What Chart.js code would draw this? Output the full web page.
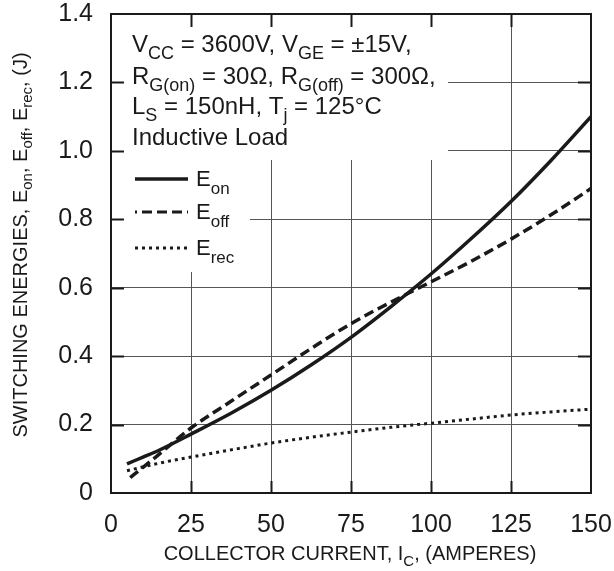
<!DOCTYPE html>
<html>
<head>
<meta charset="utf-8">
<script src="https://cdn.jsdelivr.net/npm/chart.js@4"></script>
<style>
html,body{margin:0;padding:0;background:#fff;}
#c{display:block;}
</style>
</head>
<body>
<canvas id="c" width="614" height="571"></canvas>
<script>
// ---- data ----
const xTicks = [0, 25, 50, 75, 100, 125, 150];
const yTicks = [0, 0.2, 0.4, 0.6, 0.8, 1.0, 1.2, 1.4];

const eonCurrent = [5, 10, 15, 25, 37.5, 50, 62.5, 75, 87.5, 100, 112.5, 125, 137.5, 150];
const eonEnergy  = [0.085, 0.105, 0.125, 0.172, 0.233, 0.300, 0.374, 0.455, 0.545, 0.640, 0.743, 0.852, 0.972, 1.10];

const eoffCurrent = [6, 10, 15, 25, 37.5, 50, 62.5, 75, 87.5, 100, 112.5, 125, 137.5, 150];
const eoffEnergy  = [0.045, 0.075, 0.113, 0.19, 0.268, 0.345, 0.422, 0.495, 0.558, 0.617, 0.677, 0.742, 0.813, 0.89];

const erecCurrent = [5, 15, 25, 37.5, 50, 62.5, 75, 87.5, 100, 112.5, 125, 137.5, 150];
const erecEnergy  = [0.065, 0.087, 0.105, 0.126, 0.146, 0.163, 0.178, 0.192, 0.204, 0.216, 0.228, 0.237, 0.245];

const seriesNames = ['on', 'off', 'rec'];

function pts(xs, ys){ return xs.map((x,i)=>({x:x, y:ys[i]})); }

const FONT = '"Liberation Sans", Arial, Helvetica, sans-serif';
const INK = '#1a1a1a';

function richWidth(ctx, parts, main, sub){
  let w = 0;
  for (const p of parts){
    ctx.font = (p[1] ? sub : main) + 'px ' + FONT;
    w += ctx.measureText(p[0]).width;
  }
  return w;
}
function drawRich(ctx, parts, x, y, main, sub, subDrop, align){
  let w = richWidth(ctx, parts, main, sub);
  let cx = align === 'center' ? x - w/2 : x;
  ctx.textBaseline = 'alphabetic';
  ctx.textAlign = 'left';
  for (const p of parts){
    ctx.font = (p[1] ? sub : main) + 'px ' + FONT;
    ctx.fillText(p[0], cx, y + (p[1] ? subDrop : 0));
    cx += ctx.measureText(p[0]).width;
  }
}

const decor = {
  id: 'decor',
  beforeDatasetsDraw(chart){
    const ctx = chart.ctx, a = chart.chartArea;
    const xs = chart.scales.x, ys = chart.scales.y;
    ctx.save();
    // white areas behind the annotation and legend
    ctx.fillStyle = '#fff';
    ctx.fillRect(a.left, a.top, 448 - a.left, 160 - a.top);
    ctx.fillRect(a.left, a.top, 250 - a.left, 272 - a.top);
    // inward ticks
    ctx.strokeStyle = INK;
    ctx.lineWidth = 2;
    ctx.beginPath();
    for (const v of yTicks){
      if (v <= 0 || v >= 1.4) continue;
      const py = Math.round(ys.getPixelForValue(v)) + 0.5;
      ctx.moveTo(a.left, py); ctx.lineTo(a.left + 13, py);
      ctx.moveTo(a.right, py); ctx.lineTo(a.right - 13, py);
    }
    for (const v of xTicks){
      if (v <= 0 || v >= 150) continue;
      const px = Math.round(xs.getPixelForValue(v)) + 0.5;
      ctx.moveTo(px, a.bottom); ctx.lineTo(px, a.bottom - 12);
      ctx.moveTo(px, a.top); ctx.lineTo(px, a.top + 13);
    }
    ctx.stroke();
    // frame
    ctx.lineWidth = 2;
    ctx.strokeRect(a.left, a.top, a.right - a.left, a.bottom - a.top);
    ctx.restore();
  },
  afterDraw(chart){
    const ctx = chart.ctx;
    ctx.save();
    ctx.fillStyle = INK;
    // annotation
    const tx = 132, m = 24, s = 18, d = 7;
    drawRich(ctx, [['V',0],['CC',1],[' = 3600V, V',0],['GE',1],[' = \u00B115V,',0]], tx, 52, m, s, d);
    drawRich(ctx, [['R',0],['G(on)',1],[' = 30\u03A9, R',0],['G(off)',1],[' = 300\u03A9,',0]], tx, 84, m, s, d);
    drawRich(ctx, [['L',0],['S',1],[' = 150nH, T',0],['j',1],[' = 125\u00B0C',0]], tx, 114, m, s, d);
    drawRich(ctx, [['Inductive Load',0]], tx, 145, m, s, d);
    // legend
    const ly = [179, 212, 248];
    const dashes = [[], [10, 5], [3, 4]];
    const offs = [0, 8, 0];
    for (let i = 0; i < 3; i++){
      ctx.strokeStyle = INK;
      ctx.lineWidth = i === 0 ? 3.5 : 3;
      ctx.setLineDash(dashes[i]);
      ctx.lineDashOffset = offs[i];
      ctx.beginPath();
      ctx.moveTo(135, ly[i]); ctx.lineTo(188, ly[i]);
      ctx.stroke();
      ctx.setLineDash([]);
      ctx.lineDashOffset = 0;
      drawRich(ctx, [['E',0],[seriesNames[i],1]], 196, ly[i] + 7, 22, 17, 8);
    }
    // x axis title
    drawRich(ctx, [['COLLECTOR CURRENT, I',0],['C',1],[', (AMPERES)',0]], 350, 560, 20, 15, 6, 'center');
    // y axis title (rotated)
    ctx.translate(27, 245);
    ctx.rotate(-Math.PI/2);
    drawRich(ctx, [['SWITCHING ENERGIES, E',0],['on',1],[', E',0],['off',1],[', E',0],['rec',1],[', (J)',0]], 0, 0, 20, 15, 5, 'center');
    ctx.restore();
  }
};

function noPad(scale){
  scale.paddingTop = 0; scale.paddingBottom = 0;
  scale.paddingLeft = 0; scale.paddingRight = 0;
}

new Chart(document.getElementById('c'), {
  type: 'line',
  data: {
    datasets: [
      { data: pts(eonCurrent, eonEnergy), borderColor: INK, borderWidth: 3.5, borderDash: [] },
      { data: pts(eoffCurrent, eoffEnergy), borderColor: INK, borderWidth: 3.5, borderDash: [10, 5] },
      { data: pts(erecCurrent, erecEnergy), borderColor: INK, borderWidth: 3, borderDash: [3, 4] }
    ]
  },
  options: {
    responsive: false,
    animation: false,
    devicePixelRatio: 1,
    layout: { padding: { left: 0, right: 23, top: 14, bottom: 0 } },
    elements: { point: { radius: 0 }, line: { cubicInterpolationMode: 'monotone', fill: false } },
    plugins: { legend: { display: false }, tooltip: { enabled: false }, title: { display: false } },
    scales: {
      x: {
        type: 'linear', min: 0, max: 150,
        afterBuildTicks(scale){ scale.ticks = xTicks.map(v => ({value: v})); },
        afterFit(scale){ scale.height = 78; noPad(scale); },
        grid: { color: '#555', lineWidth: 1, drawTicks: false },
        border: { display: false },
        ticks: { font: { family: FONT, size: 25 }, color: INK, padding: 17, maxRotation: 0, autoSkip: false }
      },
      y: {
        type: 'linear', min: 0, max: 1.4,
        afterBuildTicks(scale){ scale.ticks = yTicks.map(v => ({value: v})); },
        afterFit(scale){ scale.width = 111; noPad(scale); },
        grid: { color: '#555', lineWidth: 1, drawTicks: false },
        border: { display: false },
        ticks: { font: { family: FONT, size: 25 }, color: INK, padding: 18, autoSkip: false,
          callback: v => v === 0 ? '0' : Number(v).toFixed(1) }
      }
    }
  },
  plugins: [decor]
});
</script>
</body>
</html>
